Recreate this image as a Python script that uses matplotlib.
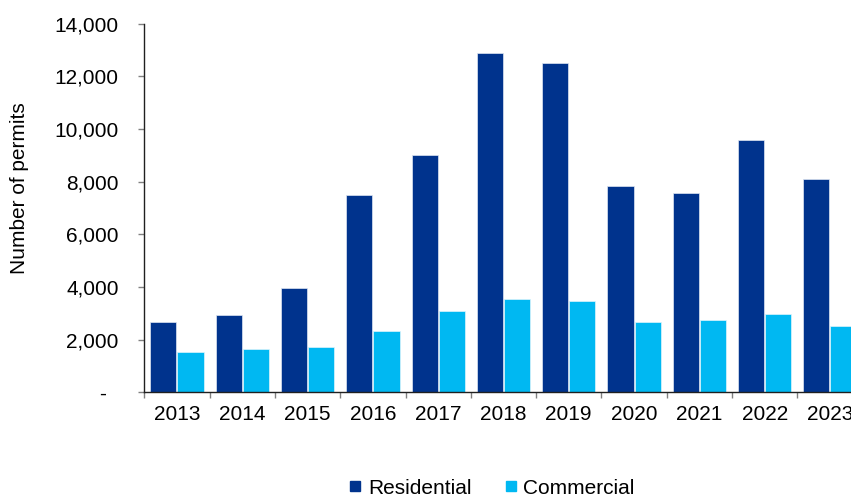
import matplotlib.pyplot as plt
from matplotlib.lines import Line2D
from matplotlib.ticker import FuncFormatter
import numpy as np

plt.rcParams['font.family'] = ['Liberation Sans', 'DejaVu Sans']

years = ["2013", "2014", "2015", "2016", "2017", "2018",
         "2019", "2020", "2021", "2022", "2023"]
residential = [2680, 2920, 3950, 7490, 9000, 12890, 12500, 7840, 7570, 9580, 8100]
commercial = [1530, 1645, 1710, 2340, 3090, 3545, 3470, 2670, 2750, 2975, 2520]

dark_blue = "#00338D"
light_blue = "#00B8F2"

fig = plt.figure(figsize=(8.51, 4.97), dpi=100)
ax = fig.add_axes([0.1696, 0.2107, 0.844, 0.7416])

x = np.arange(len(years))
w = 0.4
ax.bar(x - 0.208, residential, w, color=dark_blue, edgecolor="#dfe6f2", linewidth=0.5)
ax.bar(x + 0.208, commercial, w, color=light_blue, edgecolor="#dff4fc", linewidth=0.5)

ax.set_xlim(-0.5, len(years) - 0.5)
ax.set_ylim(0, 14000)
ax.set_yticks(np.arange(0, 14001, 2000))
ax.yaxis.set_major_formatter(FuncFormatter(lambda v, p: "-  " if v == 0 else f"{v:,.0f}"))

# year labels centred, tick marks between the groups
ax.set_xticks(x)
ax.set_xticklabels(years)
ax.set_xticks(np.arange(-0.5, len(years)), minor=True)
ax.tick_params(axis="x", which="major", length=0, pad=9, labelsize=15)
ax.tick_params(axis="x", which="minor", length=4.5, width=1, color="#808080")
ax.tick_params(axis="y", length=4.5, width=1, color="#808080", pad=14, labelsize=15)

for s in ["top", "right"]:
    ax.spines[s].set_visible(False)
for s in ["left", "bottom"]:
    ax.spines[s].set_color("#202020")
    ax.spines[s].set_linewidth(1)

ax.set_ylabel("Number of permits", fontsize=15)
ax.yaxis.set_label_coords(-0.16, 0.554)

handles = [Line2D([], [], marker="s", linestyle="", markersize=7, color=dark_blue),
           Line2D([], [], marker="s", linestyle="", markersize=7, color=light_blue)]
fig.legend(handles, ["Residential", "Commercial"], loc="center",
           bbox_to_anchor=(0.578, 0.018), ncol=2, frameon=False, fontsize=15,
           handlelength=0.6, handletextpad=0.3, columnspacing=1.6)

fig.savefig("out.png", dpi=100)
